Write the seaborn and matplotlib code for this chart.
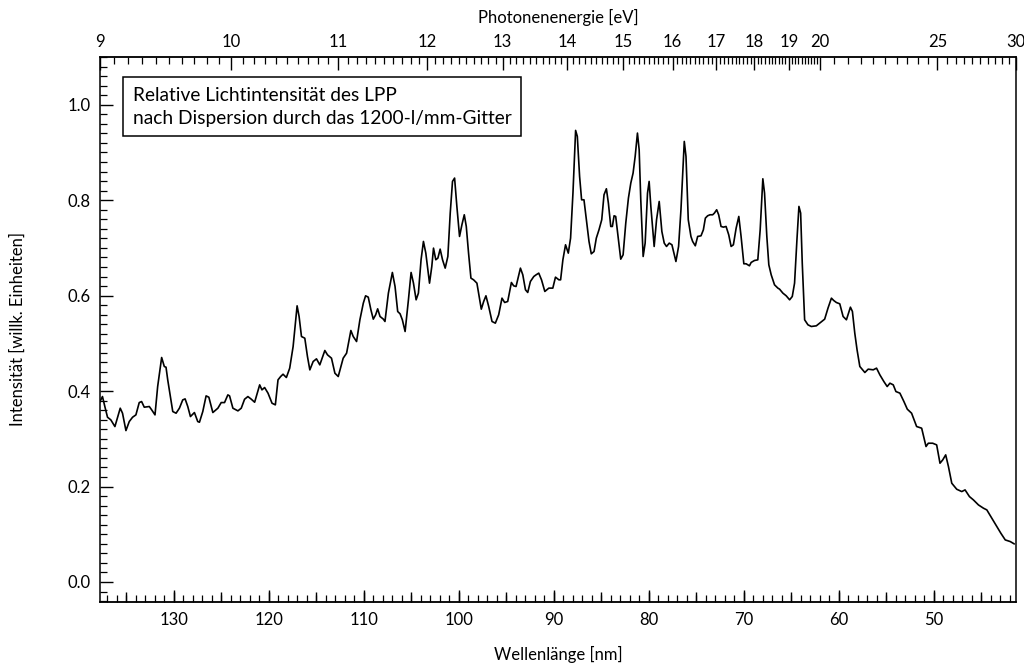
import numpy as np
import pandas as pd
import matplotlib
matplotlib.use("Agg")
import matplotlib.pyplot as plt
import seaborn as sns
from matplotlib.ticker import MultipleLocator, FixedLocator, FuncFormatter, NullFormatter

# ---------------- data ----------------
wl_a = [137.85, 137.50, 137.25, 136.97, 136.62, 136.19, 135.63, 135.39, 135.03, 134.68,
        134.33, 133.98, 133.63, 133.38, 133.10, 132.57, 132.32, 131.97, 131.69, 131.27,
        130.99, 130.81, 130.63, 130.10, 129.75, 129.40, 129.05, 128.80, 128.52, 128.24,
        127.82, 127.47, 127.29, 126.94, 126.59, 126.30, 125.88, 125.35, 125.00, 124.65,
        124.30, 124.12, 123.77, 123.24, 122.89, 122.54, 122.19, 121.83, 121.48, 120.95,
        120.71, 120.43, 120.07, 119.65, 119.30, 119.02, 118.74, 118.49, 118.14, 117.79,
        117.43, 117.01, 116.80, 116.55, 116.20, 115.92, 115.67, 115.32, 114.97, 114.62,
        114.37, 114.09, 113.81, 113.39, 113.03, 112.68]
int_a = [0.3745, 0.3885, 0.3676, 0.3452, 0.3396, 0.3256, 0.3641, 0.3536, 0.3172, 0.3361,
         0.3452, 0.3501, 0.3759, 0.3780, 0.3662, 0.3676, 0.3606, 0.3501, 0.4095, 0.4703,
         0.4514, 0.4500, 0.4235, 0.3571, 0.3536, 0.3641, 0.3815, 0.3836, 0.3676, 0.3466,
         0.3550, 0.3361, 0.3347, 0.3571, 0.3899, 0.3871, 0.3550, 0.3641, 0.3759, 0.3759,
         0.3920, 0.3899, 0.3641, 0.3585, 0.3641, 0.3829, 0.3885, 0.3829, 0.3766, 0.4130,
         0.4025, 0.4074, 0.3955, 0.3745, 0.3711, 0.4235, 0.4305, 0.4353, 0.4284, 0.4479,
         0.4933, 0.5786, 0.5562, 0.5143, 0.5108, 0.4724, 0.4444, 0.4619, 0.4675, 0.4549,
         0.4689, 0.4850, 0.4759, 0.4689, 0.4374, 0.4305]

wl_b = [112.16, 111.80, 111.35, 111.10, 110.75, 110.40, 110.04, 109.80, 109.52, 109.24,
        108.99, 108.74, 108.53, 108.28, 107.93, 107.76, 107.40, 106.98, 106.70, 106.42,
        106.17, 105.93, 105.64, 105.29, 105.01, 104.76, 104.48, 104.24, 103.96, 103.71,
        103.46, 103.07, 102.83, 102.65, 102.41, 102.19, 101.95, 101.70, 101.42, 101.14,
        100.89, 100.65, 100.43, 100.19, 99.91, 99.66, 99.41, 99.20, 98.96, 98.71,
        98.43, 98.08, 97.62, 97.37, 97.13, 96.84, 96.49, 96.14, 95.79, 95.44,
        95.16, 94.84, 94.45, 94.21, 93.96, 93.50, 93.25, 92.97, 92.73, 92.45,
        92.09, 91.85, 91.57, 91.28, 90.93, 90.51, 90.09, 89.81, 89.45]
int_b = [0.4689, 0.4794, 0.5269, 0.5143, 0.5038, 0.5493, 0.5842, 0.5996, 0.5968, 0.5702,
         0.5507, 0.5598, 0.5723, 0.5563, 0.5507, 0.5458, 0.6052, 0.6485, 0.6192, 0.5667,
         0.5619, 0.5493, 0.5248, 0.5912, 0.6485, 0.6261, 0.5912, 0.6052, 0.6751, 0.7135,
         0.6890, 0.6261, 0.6611, 0.6995, 0.6751, 0.6786, 0.6974, 0.6751, 0.6576, 0.6821,
         0.7729, 0.8393, 0.8463, 0.7869, 0.7240, 0.7484, 0.7694, 0.7450, 0.6890, 0.6366,
         0.6331, 0.6261, 0.5716, 0.5877, 0.5996, 0.5772, 0.5458, 0.5423, 0.5598, 0.5947,
         0.5856, 0.5877, 0.6275, 0.6205, 0.6191, 0.6576, 0.6436, 0.6122, 0.6066, 0.6296,
         0.6401, 0.6436, 0.6471, 0.6331, 0.6087, 0.6157, 0.6157, 0.6387, 0.6331]

wl_c = [89.27, 89.03, 88.75, 88.46, 88.22, 87.97, 87.69, 87.51, 87.27, 87.06,
        86.81, 86.56, 86.28, 86.04, 85.75, 85.51, 85.23, 84.94, 84.70, 84.45,
        84.24, 83.99, 83.82, 83.64, 83.47, 83.18, 82.94, 82.69, 82.41, 82.13,
        81.88, 81.64, 81.42, 81.18, 81.00, 80.83, 80.58, 80.37, 80.12, 79.95,
        79.77, 79.42, 79.17, 78.89, 78.61, 78.36, 78.12, 77.83, 77.55, 77.38,
        77.13, 76.85, 76.60, 76.25, 76.07, 75.83, 75.55, 75.37, 75.09, 74.84,
        74.49, 74.24, 74.03, 73.79, 73.54, 73.26, 73.08, 72.84, 72.63, 72.38,
        72.13, 71.85, 71.57, 71.32, 71.08, 70.79, 70.51, 70.27, 69.98, 69.74,
        69.39, 69.21, 68.86, 68.51, 68.26, 67.98, 67.80, 67.56, 67.35, 67.10,
        66.75, 66.39]
int_c = [0.6331, 0.6750, 0.7065, 0.6890, 0.7205, 0.8148, 0.9462, 0.9336, 0.8497, 0.8008,
         0.8008, 0.7589, 0.7135, 0.6876, 0.6925, 0.7205, 0.7379, 0.7589, 0.8113, 0.8239,
         0.7938, 0.7449, 0.7449, 0.7673, 0.7659, 0.7170, 0.6764, 0.6855, 0.7519, 0.8043,
         0.8358, 0.8567, 0.8917, 0.9406, 0.9056, 0.8008, 0.6820, 0.7100, 0.8148, 0.8393,
         0.7868, 0.7030, 0.7589, 0.7973, 0.7344, 0.7100, 0.7030, 0.7100, 0.7065, 0.6925,
         0.6715, 0.7030, 0.7799, 0.9231, 0.8917, 0.7589, 0.7240, 0.7135, 0.7044, 0.7240,
         0.7253, 0.7379, 0.7624, 0.7673, 0.7694, 0.7694, 0.7729, 0.7799, 0.7694, 0.7449,
         0.7435, 0.7449, 0.7274, 0.7030, 0.7065, 0.7414, 0.7659, 0.7240, 0.6667, 0.6667,
         0.6625, 0.6695, 0.6736, 0.6750, 0.7379, 0.8448, 0.8148, 0.7240, 0.6646, 0.6436,
         0.6226, 0.6156]

wl_d = [66.22, 65.87, 65.52, 65.16, 64.88, 64.64, 64.39, 64.18, 64.00, 63.83,
        63.58, 63.23, 62.88, 62.35, 62.00, 61.47, 61.12, 60.76, 60.52, 60.24,
        59.88, 59.53, 59.18, 58.76, 58.55, 58.30, 58.06, 57.77, 57.24, 56.89,
        56.36, 56.01, 55.66, 55.24, 54.89, 54.60, 54.25, 53.97, 53.55, 53.13,
        52.77, 52.32, 51.79, 51.26, 50.80, 50.56, 50.10, 49.68, 49.33, 49.04,
        48.73, 48.44, 48.09, 47.57, 47.04, 46.69, 46.23, 45.81, 45.28, 44.75,
        44.40, 43.87, 43.34, 42.92, 42.46, 41.93, 41.51]
int_d = [0.6136, 0.6052, 0.5996, 0.5912, 0.5982, 0.6262, 0.7170, 0.7869, 0.7729, 0.6681,
         0.5493, 0.5388, 0.5353, 0.5367, 0.5423, 0.5507, 0.5738, 0.5947, 0.5898, 0.5856,
         0.5828, 0.5563, 0.5493, 0.5758, 0.5668, 0.5213, 0.4864, 0.4515, 0.4389, 0.4459,
         0.4445, 0.4480, 0.4340, 0.4200, 0.4095, 0.4165, 0.4130, 0.3990, 0.3956, 0.3781,
         0.3620, 0.3536, 0.3257, 0.3222, 0.2838, 0.2907, 0.2907, 0.2872, 0.2488, 0.2558,
         0.2663, 0.2418, 0.2069, 0.1943, 0.1894, 0.1929, 0.1789, 0.1719, 0.1614, 0.1545,
         0.1510, 0.1335, 0.1160, 0.1020, 0.0881, 0.0846, 0.0797]

ev_major = [9, 10, 11, 12, 13, 14, 15, 16, 17, 18, 19, 20, 25, 30]
y_major = [0.0, 0.2, 0.4, 0.6, 0.8, 1.0]

HC = 1239.84  # eV*nm

for a, b in [(wl_a, int_a), (wl_b, int_b), (wl_c, int_c), (wl_d, int_d)]:
    assert len(a) == len(b), (len(a), len(b))

df = pd.DataFrame({
    "Wellenlänge": wl_a + wl_b + wl_c + wl_d,
    "Intensität": int_a + int_b + int_c + int_d,
})

# ---------------- style ----------------
sns.set_theme(style="ticks")
plt.rcParams["font.family"] = ["Lato", "DejaVu Sans"]
plt.rcParams["axes.linewidth"] = 1.1

fig = plt.figure(figsize=(10.24, 6.64), dpi=100)
ax = fig.add_axes([100 / 1024, 1 - 602 / 664, 916 / 1024, 545 / 664])

sns.lineplot(data=df, x="Wellenlänge", y="Intensität", ax=ax, color="black",
             linewidth=1.2, sort=False, estimator=None)

ax.set_xlim(HC / 9, HC / 30)
ax.set_ylim(-0.042, 1.10)

for s in ax.spines.values():
    s.set_color("black")
    s.set_linewidth(1.1)

# bottom axis (wavelength)
ax.xaxis.set_major_locator(MultipleLocator(10))
ax.xaxis.set_minor_locator(MultipleLocator(1))
ax.xaxis.set_major_formatter(FuncFormatter(lambda v, p: f"{v:.0f}"))
ax.tick_params(axis="x", which="major", direction="in", length=9, width=1.0,
               labelsize=12, pad=7, top=False, color="black", labelcolor="black")
ax.tick_params(axis="x", which="minor", direction="in", length=5, width=0.9,
               top=False, color="black")
mid = ax.secondary_xaxis("bottom")
mid.xaxis.set_major_locator(MultipleLocator(5))
mid.xaxis.set_major_formatter(NullFormatter())
mid.tick_params(axis="x", which="major", direction="in", length=7, width=1.0, color="black")
mid.tick_params(axis="x", which="minor", length=0)

# left axis
ax.yaxis.set_major_locator(FixedLocator(y_major))
ax.yaxis.set_minor_locator(MultipleLocator(0.02))
ax.yaxis.set_major_formatter(FuncFormatter(lambda v, p: f"{v:.1f}"))
ax.tick_params(axis="y", which="major", direction="in", length=9, width=1.0,
               labelsize=12, pad=7, right=False, color="black", labelcolor="black")
ax.tick_params(axis="y", which="minor", direction="in", length=5, width=0.9,
               right=False, color="black")

ax.set_xlabel("Wellenlänge [nm]", fontsize=12, labelpad=13, color="black")
ax.set_ylabel("Intensität [willk. Einheiten]", fontsize=12, labelpad=30, color="black")


# top axis (photon energy)
def nm_to_ev(x):
    x = np.asarray(x, dtype=float)
    with np.errstate(divide="ignore", invalid="ignore"):
        return HC / x


sec = ax.secondary_xaxis("top", functions=(nm_to_ev, nm_to_ev))
ev_minor = [round(v, 1) for v in np.arange(9.1, 20.0, 0.1)] + \
           [round(v, 1) for v in np.arange(20.5, 30.0, 0.5)]
sec.xaxis.set_major_locator(FixedLocator(ev_major))
sec.xaxis.set_minor_locator(FixedLocator(ev_minor))
sec.xaxis.set_major_formatter(FuncFormatter(lambda v, p: f"{v:.0f}"))
sec.tick_params(axis="x", which="major", direction="in", length=9, width=1.0,
                labelsize=12, pad=5, color="black", labelcolor="black")
sec.tick_params(axis="x", which="minor", direction="in", length=5, width=0.9, color="black")
sec.set_xlabel("Photonenenergie [eV]", fontsize=12, labelpad=8, color="black")

ax.text(0.0356, 0.9457,
        "Relative Lichtintensität des LPP\nnach Dispersion durch das 1200-l/mm-Gitter",
        transform=ax.transAxes, ha="left", va="top", fontsize=13.8, color="black",
        linespacing=1.45,
        bbox=dict(boxstyle="square,pad=0.5", fc="white", ec="black", lw=1.1))

fig.savefig("out.png", dpi=100)
